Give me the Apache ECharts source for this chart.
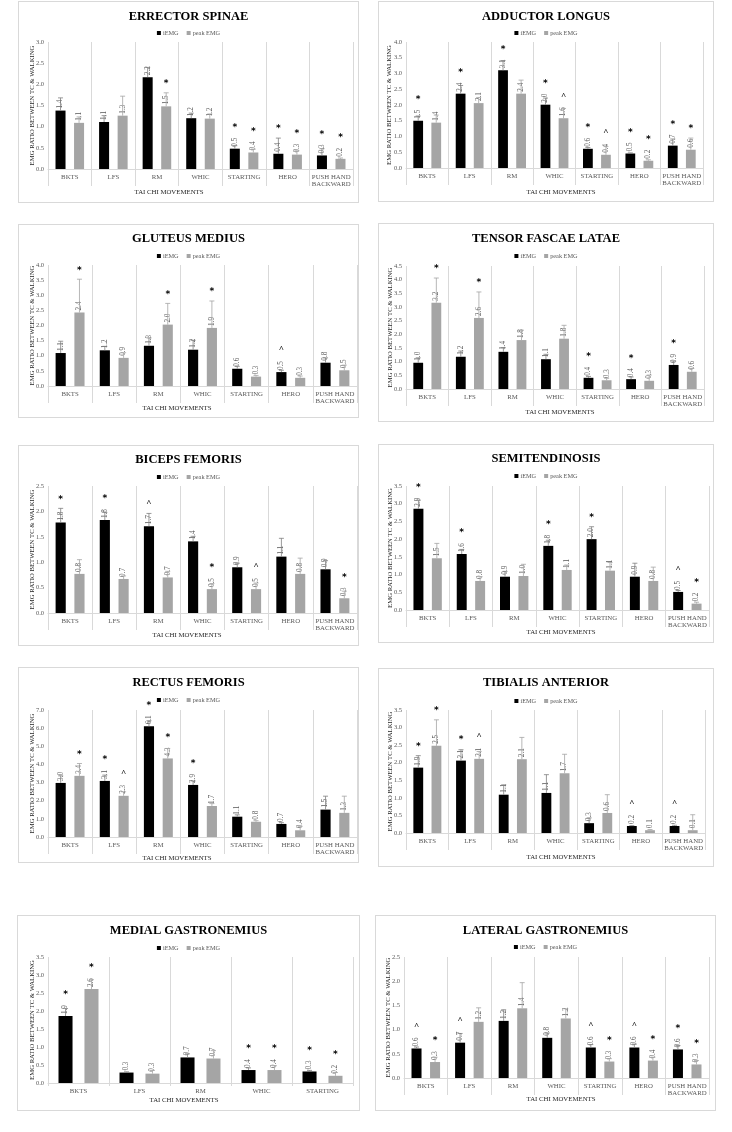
<!DOCTYPE html>
<html><head><meta charset="utf-8">
<script src="https://cdn.jsdelivr.net/npm/echarts@6/dist/echarts.min.js"></script>
<style>
html,body{margin:0;padding:0;background:#fff}
body{width:732px;height:1132px;position:relative;overflow:hidden}
.p{position:absolute;outline:1px solid #d9d9d9;outline-offset:-1px;background:#fff}
</style></head><body>
<script>
// ---------------- DATA ----------------
const categories7 = ['BKTS', 'LFS', 'RM', 'WHIC', 'STARTING', 'HERO', 'PUSH HAND\nBACKWARD'];
const categories5 = ['BKTS', 'LFS', 'RM', 'WHIC', 'STARTING'];
const seriesNames = ['iEMG', 'peak EMG'];
const xAxisTitle = 'TAI CHI MOVEMENTS';
const yAxisTitle = 'EMG RATIO BETWEEN TC & WALKING';

// Erector spinae
const erectorIemg = [1.38, 1.11, 2.17, 1.20, 0.48, 0.36, 0.32];
const erectorIemgSd = [0.30, 0.15, 0.23, 0.12, 0.07, 0.37, 0.16];
const erectorPeak = [1.09, 1.26, 1.48, 1.19, 0.39, 0.34, 0.24];
const erectorPeakSd = [0.14, 0.46, 0.32, 0.11, 0.08, 0.09, 0.02];
const erectorIemgSig = ['', '', '', '', '*', '*', '*'];
const erectorPeakSig = ['', '', '*', '', '*', '*', '*'];

// Adductor longus
const adductorIemg = [1.50, 2.36, 3.10, 2.01, 0.61, 0.46, 0.71];
const adductorIemgSd = [0.15, 0.26, 0.31, 0.21, 0.04, 0.02, 0.21];
const adductorPeak = [1.44, 2.06, 2.36, 1.58, 0.42, 0.23, 0.58];
const adductorPeakSd = [0.24, 0.18, 0.43, 0.31, 0.26, 0.03, 0.37];
const adductorIemgSig = ['*', '*', '*', '*', '*', '*', '*'];
const adductorPeakSig = ['', '', '', '^', '^', '*', '*'];

// Gluteus medius
const gluteusIemg = [1.09, 1.18, 1.33, 1.20, 0.57, 0.46, 0.77];
const gluteusIemgSd = [0.39, 0.13, 0.26, 0.31, 0.08, 0.06, 0.16];
const gluteusPeak = [2.43, 0.93, 2.03, 1.92, 0.31, 0.27, 0.52];
const gluteusPeakSd = [1.10, 0.17, 0.70, 0.89, 0.04, 0.06, 0.17];
const gluteusIemgSig = ['', '', '', '', '', '^', ''];
const gluteusPeakSig = ['*', '', '*', '*', '', '', ''];

// Tensor fascae latae
const tensorIemg = [0.96, 1.18, 1.36, 1.09, 0.41, 0.36, 0.88];
const tensorIemgSd = [0.18, 0.21, 0.15, 0.18, 0.05, 0.08, 0.14];
const tensorPeak = [3.16, 2.60, 1.79, 1.84, 0.32, 0.30, 0.63];
const tensorPeakSd = [0.90, 0.95, 0.36, 0.49, 0.07, 0.21, 0.12];
const tensorIemgSig = ['', '', '', '', '*', '*', '*'];
const tensorPeakSig = ['*', '*', '', '', '', '', ''];

// Biceps femoris
const bicepsIemg = [1.78, 1.83, 1.71, 1.41, 0.90, 1.11, 0.86];
const bicepsIemgSd = [0.28, 0.15, 0.25, 0.10, 0.08, 0.36, 0.17];
const bicepsPeak = [0.77, 0.67, 0.70, 0.47, 0.47, 0.77, 0.29];
const bicepsPeakSd = [0.28, 0.06, 0.12, 0.11, 0.12, 0.31, 0.14];
const bicepsIemgSig = ['*', '*', '^', '', '', '', ''];
const bicepsPeakSig = ['', '', '', '*', '^', '', '*'];

// Semitendinosis
const semiIemg = [2.86, 1.58, 0.94, 1.81, 2.00, 0.94, 0.51];
const semiIemgSd = [0.24, 0.13, 0.15, 0.16, 0.35, 0.38, 0.04];
const semiPeak = [1.46, 0.82, 0.96, 1.13, 1.11, 0.82, 0.18];
const semiPeakSd = [0.42, 0.12, 0.33, 0.14, 0.23, 0.39, 0.04];
const semiIemgSig = ['*', '*', '', '*', '*', '', '^'];
const semiPeakSig = ['', '', '', '', '', '', '*'];

// Rectus femoris
const rectusIemg = [2.98, 3.09, 6.10, 2.87, 1.12, 0.72, 1.51];
const rectusIemgSd = [0.39, 0.32, 0.31, 0.22, 0.10, 0.07, 0.74];
const rectusPeak = [3.37, 2.27, 4.33, 1.71, 0.84, 0.37, 1.33];
const rectusPeakSd = [0.68, 0.22, 0.55, 0.13, 0.06, 0.22, 0.92];
const rectusIemgSig = ['', '*', '*', '*', '', '', ''];
const rectusPeakSig = ['*', '^', '*', '', '', '', ''];

// Tibialis anterior
const tibialisIemg = [1.86, 2.06, 1.09, 1.14, 0.28, 0.20, 0.20];
const tibialisIemgSd = [0.34, 0.31, 0.28, 0.52, 0.15, 0.01, 0.02];
const tibialisPeak = [2.48, 2.11, 2.10, 1.70, 0.57, 0.08, 0.08];
const tibialisPeakSd = [0.74, 0.21, 0.62, 0.54, 0.52, 0.02, 0.44];
const tibialisIemgSig = ['*', '*', '', '', '', '^', '^'];
const tibialisPeakSig = ['*', '^', '', '', '', '', ''];

// Medial gastronemius
const medialIemg = [1.86, 0.29, 0.71, 0.36, 0.32];
const medialIemgSd = [0.21, 0.02, 0.10, 0.06, 0.03];
const medialPeak = [2.61, 0.26, 0.68, 0.36, 0.20];
const medialPeakSd = [0.26, 0.09, 0.22, 0.12, 0.09];
const medialIemgSig = ['*', '', '', '*', '*'];
const medialPeakSig = ['*', '', '', '*', '*'];

// Lateral gastronemius
const lateralIemg = [0.61, 0.73, 1.18, 0.83, 0.63, 0.63, 0.59];
const lateralIemgSd = [0.03, 0.19, 0.23, 0.10, 0.06, 0.07, 0.08];
const lateralPeak = [0.33, 1.16, 1.44, 1.23, 0.34, 0.36, 0.28];
const lateralPeakSd = [0.10, 0.29, 0.53, 0.20, 0.06, 0.07, 0.08];
const lateralIemgSig = ['^', '^', '', '', '^', '^', '*'];
const lateralPeakSig = ['*', '', '', '', '*', '*', '*'];

// y-axis ranges (max, tick step)
const erectorAxis = [3.0, 0.5];
const adductorAxis = [4.0, 0.5];
const gluteusAxis = [4.0, 0.5];
const tensorAxis = [4.5, 0.5];
const bicepsAxis = [2.5, 0.5];
const semiAxis = [3.5, 0.5];
const rectusAxis = [7.0, 1.0];
const tibialisAxis = [3.5, 0.5];
const medialAxis = [3.5, 0.5];
const lateralAxis = [2.5, 0.5];

// ---------------- LAYOUT ----------------
const FONT = "'Liberation Serif','Times New Roman',serif";
const panels = [
  {title:'ERRECTOR SPINAE', cats:categories7, d:[erectorIemg, erectorIemgSd, erectorPeak, erectorPeakSd, erectorIemgSig, erectorPeakSig, erectorAxis],
   box:[18,1,341,202], plot:[48,42,353,169], titleY:13, legendY:29, xName:[169,192], yNameX:32, tick:17},
  {title:'ADDUCTOR LONGUS', cats:categories7, d:[adductorIemg, adductorIemgSd, adductorPeak, adductorPeakSd, adductorIemgSig, adductorPeakSig, adductorAxis],
   box:[378,1,336,201], plot:[406,42,703,168], titleY:13, legendY:29, xName:[561,192], yNameX:389, tick:17},
  {title:'GLUTEUS MEDIUS', cats:categories7, d:[gluteusIemg, gluteusIemgSd, gluteusPeak, gluteusPeakSd, gluteusIemgSig, gluteusPeakSig, gluteusAxis],
   box:[18,224,341,194], plot:[48,265,357,386], titleY:235, legendY:252, xName:[177,408], yNameX:32, tick:17},
  {title:'TENSOR FASCAE LATAE', cats:categories7, d:[tensorIemg, tensorIemgSd, tensorPeak, tensorPeakSd, tensorIemgSig, tensorPeakSig, tensorAxis],
   box:[378,223,336,199], plot:[406,266,704,389], titleY:235, legendY:252, xName:[560,412], yNameX:390, tick:17},
  {title:'BICEPS FEMORIS', cats:categories7, d:[bicepsIemg, bicepsIemgSd, bicepsPeak, bicepsPeakSd, bicepsIemgSig, bicepsPeakSig, bicepsAxis],
   box:[18,445,341,201], plot:[48,486,357,613], titleY:456, legendY:473, xName:[187,635], yNameX:32, tick:17},
  {title:'SEMITENDINOSIS', cats:categories7, d:[semiIemg, semiIemgSd, semiPeak, semiPeakSd, semiIemgSig, semiPeakSig, semiAxis],
   box:[378,444,336,199], plot:[406,486,709,610], titleY:455, legendY:472, xName:[561,632], yNameX:390, tick:17},
  {title:'RECTUS FEMORIS', cats:categories7, d:[rectusIemg, rectusIemgSd, rectusPeak, rectusPeakSd, rectusIemgSig, rectusPeakSig, rectusAxis],
   box:[18,667,341,196], plot:[48,710,357,837], titleY:679, legendY:696, xName:[177,858], yNameX:32, tick:17},
  {title:'TIBIALIS ANTERIOR', cats:categories7, d:[tibialisIemg, tibialisIemgSd, tibialisPeak, tibialisPeakSd, tibialisIemgSig, tibialisPeakSig, tibialisAxis],
   box:[378,668,336,199], plot:[406,710,705,833], titleY:679, legendY:697, xName:[561,857], yNameX:390, tick:17},
  {title:'MEDIAL GASTRONEMIUS', cats:categories5, d:[medialIemg, medialIemgSd, medialPeak, medialPeakSd, medialIemgSig, medialPeakSig, medialAxis],
   box:[17,915,343,196], plot:[48,957,353,1083], titleY:927, legendY:944, xName:[184,1100], yNameX:32, tick:3},
  {title:'LATERAL GASTRONEMIUS', cats:categories7, d:[lateralIemg, lateralIemgSd, lateralPeak, lateralPeakSd, lateralIemgSig, lateralPeakSig, lateralAxis],
   box:[375,915,341,196], plot:[404,957,709,1078], titleY:927, legendY:943, xName:[561,1099], yNameX:388, tick:17}
];

const BAR_FRAC = 0.23, GAP = 0.85;

function errRenderer(side, color, sig) {
  return function (params, api) {
    const cat = api.value(0), mean = api.value(1), top = api.value(2);
    const band = api.size([1, 0])[0];
    const bw = band * BAR_FRAC;
    const base = api.coord([cat, mean]);
    const tp = api.coord([cat, top]);
    const x = base[0] + side * bw * (1 + GAP) / 2;
    const children = [
      {type:'line', shape:{x1:x, y1:base[1], x2:x, y2:tp[1]}, style:{stroke:color, lineWidth:0.8}},
      {type:'line', shape:{x1:x - 2.5, y1:tp[1], x2:x + 2.5, y2:tp[1]}, style:{stroke:color, lineWidth:0.8}}
    ];
    const s = sig[params.dataIndex];
    if (s) {
      const labelTop = base[1] - 3 - 9;
      const y = Math.min(labelTop, tp[1]) - (s === '*' ? 9 : 10);
      children.push({type:'text', x:x, y:y, style:{text:s, fill:'#000',
        fontFamily: s === '*' ? "'DejaVu Sans',sans-serif" : FONT, fontWeight:'bold',
        fontSize: s === '*' ? 9 : 9, align:'center', verticalAlign:'middle'}});
    }
    return {type:'group', children:children};
  };
}

function barLabel() {
  return {show:true, position:'top', rotate:90, align:'left', verticalAlign:'middle', distance:2,
    formatter:p => p.value.toFixed(1), fontFamily:FONT, fontSize:7.2, color:'#595959'};
}

panels.forEach(P => {
  const [bx, by, bwid, bh] = P.box;
  const div = document.createElement('div');
  div.className = 'p';
  div.style.left = bx + 'px'; div.style.top = by + 'px';
  div.style.width = bwid + 'px'; div.style.height = bh + 'px';
  document.body.appendChild(div);
  const chart = echarts.init(div, null, {width:bwid, height:bh});
  const [iemg, iSd, peak, pSd, iSig, pSig, axis] = P.d;
  const gl = P.plot[0] - bx, gt = P.plot[1] - by, gr = bx + bwid - P.plot[2], gb = by + bh - P.plot[3];
  chart.setOption({
    animation:false,
    title:{text:P.title, left:'center', top:P.titleY - by - 8,
      textStyle:{fontFamily:FONT, fontSize:12.5, fontWeight:'bold', color:'#000'}},
    legend:{data:seriesNames, left:'center', top:P.legendY - by - 4, icon:'rect', itemWidth:4, itemHeight:4, itemGap:8,
      textStyle:{fontFamily:FONT, fontSize:6.3, color:'#595959', padding:[0,0,0,-3]}},
    grid:{left:gl, top:gt, right:gr, bottom:gb, containLabel:false, outerBoundsMode:'none'},
    xAxis:{type:'category', data:P.cats,
      axisLine:{show:true, lineStyle:{color:'#d9d9d9', width:1}},
      axisTick:{show:true, length:P.tick, lineStyle:{color:'#d9d9d9'}},
      splitLine:{show:true, lineStyle:{color:'#d9d9d9', width:1}},
      axisLabel:{interval:0, margin:4, fontFamily:FONT, fontSize:6.8, color:'#595959', lineHeight:7.5}},
    yAxis:{type:'value', min:0, max:axis[0], interval:axis[1],
      axisLine:{show:false}, axisTick:{show:false}, splitLine:{show:false},
      axisLabel:{formatter:v => v.toFixed(1), fontFamily:FONT, fontSize:6.5, color:'#595959', margin:4},
      name:yAxisTitle, nameLocation:'middle', nameGap:(P.plot[0] - P.yNameX) - 3.5, nameMoveOverlap:false,
      nameTextStyle:{fontFamily:FONT, fontSize:6.7, color:'#262626'}},
    graphic:[{type:'text', x:P.xName[0] - bx, y:P.xName[1] - by,
      style:{text:xAxisTitle, fontFamily:FONT, fontSize:6.8, fill:'#262626', align:'center', verticalAlign:'middle'}}],
    series:[
      {name:seriesNames[0], type:'bar', data:iemg, barWidth:(BAR_FRAC * 100) + '%', barGap:(GAP * 100) + '%',
        itemStyle:{color:'#000000'}, label:barLabel()},
      {name:seriesNames[1], type:'bar', data:peak, barWidth:(BAR_FRAC * 100) + '%', barGap:(GAP * 100) + '%',
        itemStyle:{color:'#a5a5a5'}, label:barLabel()},
      {type:'custom', silent:true, clip:false, z:5, data:iemg.map((m, i) => [i, m, m + iSd[i]]),
        encode:{x:0, y:[1, 2]}, renderItem:errRenderer(-1, '#7f7f7f', iSig)},
      {type:'custom', silent:true, clip:false, z:5, data:peak.map((m, i) => [i, m, m + pSd[i]]),
        encode:{x:0, y:[1, 2]}, renderItem:errRenderer(1, '#a5a5a5', pSig)}
    ]
  });
});
</script>
</body></html>
